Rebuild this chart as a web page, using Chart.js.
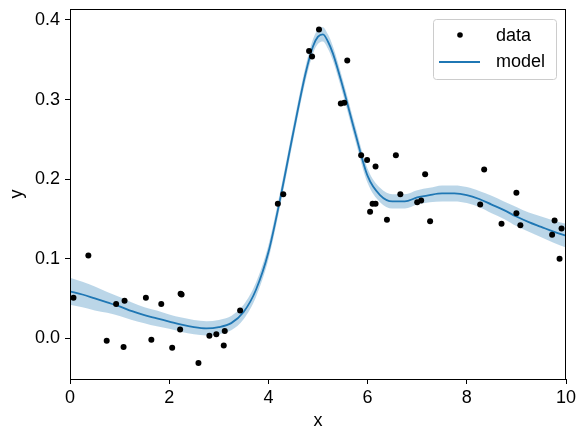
<!DOCTYPE html>
<html>
<head>
<meta charset="utf-8">
<script src="https://cdn.jsdelivr.net/npm/chart.js@4"></script>
<style>
  body { margin: 0; background: #fff; }
  canvas { display: block; }
</style>
</head>
<body>
<canvas id="chart" width="586" height="438"></canvas>
<script>
// observed points
const dataX = [0.07, 0.37, 0.74, 0.93, 1.08, 1.10, 1.53, 1.64, 1.84, 2.06,
  2.22, 2.23, 2.25, 2.59, 2.81, 2.95, 3.10, 3.12, 3.43, 4.19,
  4.30, 4.82, 4.88, 5.02, 5.46, 5.53, 5.59, 5.87, 5.99, 6.05,
  6.10, 6.16, 6.16, 6.39, 6.57, 6.66, 7.00, 7.08, 7.16, 7.26,
  8.27, 8.35, 8.70, 9.00, 9.00, 9.08, 9.72, 9.77, 9.87, 9.91];
const dataY = [0.051, 0.104, -0.003, 0.043, -0.011, 0.047, 0.051, -0.002, 0.043, -0.012,
  0.011, 0.056, 0.055, -0.031, 0.003, 0.005, -0.009, 0.009, 0.035, 0.169,
  0.181, 0.361, 0.354, 0.388, 0.295, 0.296, 0.349, 0.230, 0.224, 0.159,
  0.169, 0.169, 0.216, 0.149, 0.230, 0.181, 0.171, 0.173, 0.206, 0.147,
  0.168, 0.212, 0.144, 0.183, 0.157, 0.142, 0.130, 0.148, 0.100, 0.138];

// fitted model curve and its uncertainty half-width
const modelX = [0, 0.25, 0.5, 0.75, 1, 1.25, 1.5, 1.75, 2, 2.25,
  2.5, 2.75, 3, 3.25, 3.5, 3.75, 4, 4.25, 4.5, 4.75,
  4.9, 5.0, 5.1, 5.2, 5.3, 5.5, 5.75, 6, 6.25, 6.5,
  6.75, 7, 7.25, 7.5, 7.75, 8, 8.25, 8.5, 8.75, 9,
  9.25, 9.5, 9.75, 10];
const modelY = [0.059, 0.055, 0.050, 0.045, 0.040, 0.034, 0.029, 0.025, 0.021, 0.017,
  0.014, 0.0125, 0.014, 0.019, 0.033, 0.061, 0.108, 0.179, 0.258, 0.333,
  0.367, 0.379, 0.382, 0.373, 0.358, 0.316, 0.258, 0.204, 0.180, 0.172,
  0.172, 0.177, 0.180, 0.182, 0.182, 0.180, 0.175, 0.168, 0.161, 0.153,
  0.146, 0.140, 0.134, 0.129];
const bandHalf = [0.017, 0.016, 0.015, 0.013, 0.012, 0.011, 0.010, 0.010, 0.009, 0.009,
  0.009, 0.009, 0.009, 0.009, 0.009, 0.009, 0.009, 0.009, 0.009, 0.009,
  0.009, 0.009, 0.009, 0.009, 0.009, 0.009, 0.009, 0.009, 0.009, 0.009,
  0.009, 0.009, 0.009, 0.010, 0.010, 0.010, 0.010, 0.011, 0.011, 0.012,
  0.012, 0.013, 0.014, 0.015];

const xTicks = [0, 2, 4, 6, 8, 10];
const yTicks = [0.0, 0.1, 0.2, 0.3, 0.4];

const FONT = "'Liberation Sans', Arial, sans-serif";
const BLUE = "#1f77b4";

const pts = (xs, ys) => xs.map((x, i) => ({ x: x, y: ys[i] }));

// box around the plot + matplotlib-like legend in the top right corner
const framePlugin = {
  id: "frame",
  afterDraw(chart) {
    const { ctx, chartArea: a } = chart;
    ctx.save();
    ctx.strokeStyle = "#000";
    ctx.lineWidth = 1;
    ctx.strokeRect(a.left + 0.5, a.top + 0.5, a.right - a.left - 1, a.bottom - a.top);

    const lx = 433.5, ly = 19.5, lw = 123, lh = 60;
    ctx.fillStyle = "rgba(255,255,255,0.8)";
    ctx.strokeStyle = "#ccc";
    ctx.beginPath();
    ctx.roundRect(lx, ly, lw, lh, 3);
    ctx.fill();
    ctx.stroke();

    ctx.fillStyle = "#000";
    ctx.beginPath();
    ctx.arc(460, 35, 2.8, 0, Math.PI * 2);
    ctx.fill();
    ctx.strokeStyle = BLUE;
    ctx.lineWidth = 1.8;
    ctx.beginPath();
    ctx.moveTo(439, 62);
    ctx.lineTo(480, 62);
    ctx.stroke();

    ctx.fillStyle = "#000";
    ctx.font = "18px " + FONT;
    ctx.textBaseline = "middle";
    ctx.fillText("data", 496, 36);
    ctx.fillText("model", 496, 62);
    ctx.restore();
  }
};

new Chart(document.getElementById("chart"), {
  type: "scatter",
  data: {
    datasets: [
      {
        label: "lower",
        type: "line",
        data: pts(modelX, modelY.map((v, i) => v - bandHalf[i])),
        borderWidth: 0,
        pointRadius: 0,
        cubicInterpolationMode: "monotone",
        fill: false,
        order: 4
      },
      {
        label: "upper",
        type: "line",
        data: pts(modelX, modelY.map((v, i) => v + bandHalf[i])),
        borderWidth: 0,
        pointRadius: 0,
        cubicInterpolationMode: "monotone",
        backgroundColor: "rgba(31,119,180,0.3)",
        fill: "-1",
        order: 3
      },
      {
        label: "model",
        type: "line",
        data: pts(modelX, modelY),
        borderColor: BLUE,
        borderWidth: 1.8,
        pointRadius: 0,
        cubicInterpolationMode: "monotone",
        fill: false,
        order: 2
      },
      {
        label: "data",
        data: pts(dataX, dataY),
        backgroundColor: "#000",
        borderWidth: 0,
        pointRadius: 3,
        order: 1
      }
    ]
  },
  options: {
    responsive: false,
    animation: false,
    layout: { padding: { left: 0, right: 20, top: 9, bottom: 0 } },
    plugins: {
      legend: { display: false },
      tooltip: { enabled: false }
    },
    scales: {
      x: {
        type: "linear",
        min: 0,
        max: 10,
        afterBuildTicks: s => { s.ticks = xTicks.map(v => ({ value: v })); },
        afterFit: s => { s.height = 59; s.paddingLeft = 0; s.paddingRight = 0; },
        grid: { drawOnChartArea: false, drawTicks: true, tickLength: 5, color: "#000" },
        border: { color: "#000", width: 1 },
        ticks: { color: "#000", font: { family: FONT, size: 18 }, padding: 3, maxRotation: 0 },
        title: { display: true, text: "x", color: "#000", font: { family: FONT, size: 18 }, padding: { top: 0, bottom: 6 } }
      },
      y: {
        min: -0.0512,
        max: 0.4138,
        afterBuildTicks: s => { s.ticks = yTicks.map(v => ({ value: v })); },
        afterFit: s => { s.width = 70; s.paddingTop = 0; s.paddingBottom = 0; },
        grid: { drawOnChartArea: false, drawTicks: true, tickLength: 5, color: "#000" },
        border: { color: "#000", width: 1 },
        ticks: { color: "#000", font: { family: FONT, size: 18 }, padding: 5, callback: v => v.toFixed(1) },
        title: { display: true, text: "y", color: "#000", font: { family: FONT, size: 18 }, padding: { top: 6, bottom: 0 } }
      }
    }
  },
  plugins: [framePlugin]
});
</script>
</body>
</html>
